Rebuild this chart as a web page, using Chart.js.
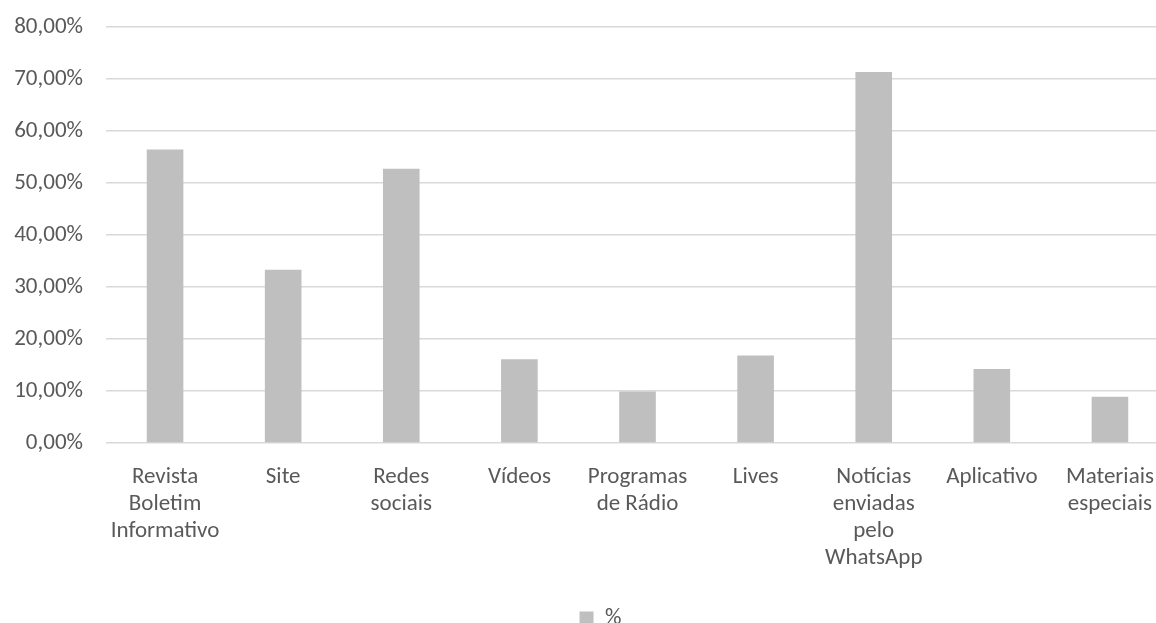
<!DOCTYPE html>
<html>
<head>
<meta charset="utf-8">
<script src="https://cdn.jsdelivr.net/npm/chart.js@4"></script>
<style>
    html, body { margin: 0; padding: 0; background: #fff; overflow: hidden; }
    #wrap { position: relative; top: -10px; width: 1200px; height: 650px; }
</style>
</head>
<body>
<div id="wrap"><canvas id="chart"></canvas></div>
<script>
// Data
const categories = [
    ['Revista', 'Boletim', 'Informativo'],
    'Site',
    ['Redes', 'sociais'],
    'Vídeos',
    ['Programas', 'de Rádio'],
    'Lives',
    ['Notícias', 'enviadas', 'pelo', 'WhatsApp'],
    'Aplicativo',
    ['Materiais', 'especiais']
];
const percentValues = [56.4, 33.3, 52.7, 16.1, 9.9, 16.8, 71.3, 14.2, 8.9];
const seriesName = '%';
const yMin = 0;
const yMax = 80;
const yStep = 10;

const FONT = 'Carlito, Lato, sans-serif';
const TEXT = '#595959';

// the source chart was wider than the crop, so its legend sits right of our centre
const legendNudge = {
    id: 'legendNudge',
    afterLayout(chart) {
        chart.legend.left += 16;
        chart.legend.right += 16;
    }
};

const ctx = document.getElementById('chart').getContext('2d');
new Chart(ctx, {
    type: 'bar',
    data: {
        labels: categories,
        datasets: [{
            label: seriesName,
            data: percentValues,
            backgroundColor: '#bfbfbf',
            borderWidth: 0,
            categoryPercentage: 1,
            barPercentage: 0.31
        }]
    },
    options: {
        responsive: true,
        maintainAspectRatio: false,
        animation: false,
        // plot runs past the right edge of the picture, as in the reference crop
        layout: { padding: { left: 0, right: 31, top: 5, bottom: 0 } },
        plugins: {
            tooltip: { enabled: false },
            legend: {
                position: 'bottom',
                labels: {
                    color: TEXT,
                    font: { family: FONT, size: 23 },
                    boxWidth: 14,
                    boxHeight: 14,
                    padding: 10
                }
            }
        },
        scales: {
            x: {
                grid: { display: false },
                border: { display: false },
                ticks: {
                    color: TEXT,
                    font: { family: FONT, size: 23, lineHeight: 1.17 },
                    maxRotation: 0,
                    autoSkip: false,
                    padding: 13
                },
                afterFit: function (scale) { scale.height = 154; }
            },
            y: {
                min: yMin,
                max: yMax,
                grid: { color: '#d9d9d9', lineWidth: 1.5, drawTicks: false },
                border: { display: false },
                ticks: {
                    stepSize: yStep,
                    color: TEXT,
                    padding: 23,
                    font: { family: FONT, size: 23 },
                    callback: function (value) {
                        return value.toFixed(2).replace('.', ',') + '%';
                    }
                },
                afterFit: function (scale) { scale.width = 106; }
            }
        }
    },
    plugins: [legendNudge]
});
</script>
</body>
</html>
